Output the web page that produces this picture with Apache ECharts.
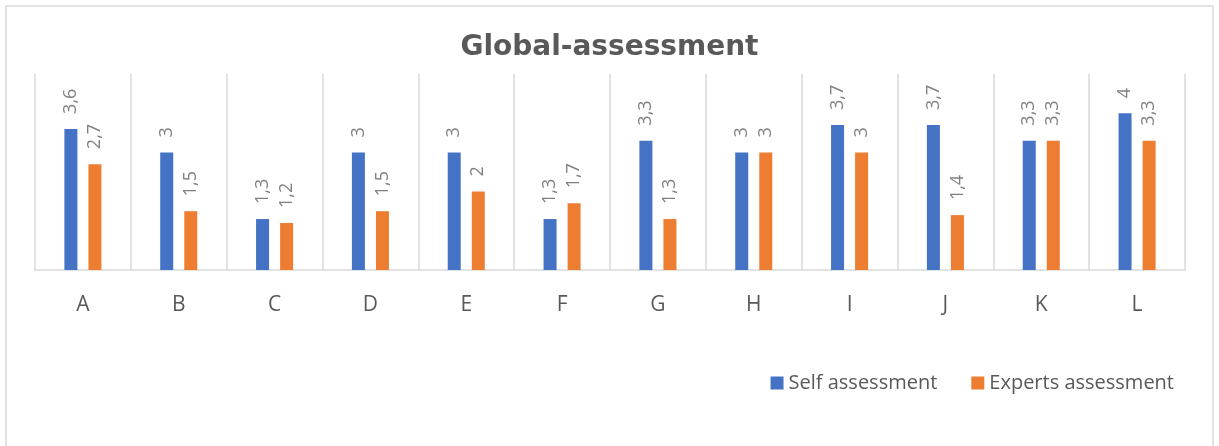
<!DOCTYPE html>
<html>
<head>
<meta charset="utf-8">
<script src="https://cdn.jsdelivr.net/npm/echarts@6/dist/echarts.min.js"></script>
<style>
html,body{margin:0;padding:0;background:#fff;}
#chart{width:1219px;height:446px;}
</style>
</head>
<body>
<div id="chart"></div>
<script>
const titleText = 'Global-assessment';
const categories = ['A','B','C','D','E','F','G','H','I','J','K','L'];
const seriesNames = ['Self assessment','Experts assessment'];
const selfValues = [3.6, 3, 1.3, 3, 3, 1.3, 3.3, 3, 3.7, 3.7, 3.3, 4];
const expertValues = [2.7, 1.5, 1.2, 1.5, 2, 1.7, 1.3, 3, 3, 1.4, 3.3, 3.3];
const colors = ['#4472C4', '#ED7D31'];

const chart = echarts.init(document.getElementById('chart'), null, {renderer: 'canvas'});
const fontFamily = '"Open Sans", "Liberation Sans", sans-serif';
const labelCfg = {
  show: true,
  position: 'top',
  rotate: 90,
  align: 'left',
  verticalAlign: 'middle',
  distance: 15,
  color: '#808080',
  fontSize: 18,
  fontFamily: fontFamily,
  formatter: p => String(p.value).replace('.', ',')
};
chart.setOption({
  animation: false,
  color: colors,
  title: {
    text: titleText,
    left: 'center',
    top: 29,
    textStyle: {
      fontFamily: '"DejaVu Sans", sans-serif',
      fontWeight: 'bold',
      fontSize: 28,
      color: '#595959'
    }
  },
  graphic: [{
    type: 'rect',
    shape: {x: 6, y: 6, width: 1207, height: 470},
    style: {fill: 'none', stroke: '#d9d9d9', lineWidth: 1.5},
    silent: true,
    z: -1
  }],
  legend: {
    data: seriesNames,
    right: 40,
    top: 368,
    itemWidth: 13,
    itemHeight: 13,
    itemGap: 34,
    icon: 'rect',
    textStyle: {fontSize: 20, color: '#595959', fontFamily: fontFamily}
  },
  grid: {left: 35, right: 34, top: 74, bottom: 176, containLabel: false},
  xAxis: {
    type: 'category',
    data: categories,
    axisLine: {lineStyle: {color: '#d9d9d9', width: 1.5}},
    axisTick: {show: false},
    splitLine: {show: true, lineStyle: {color: '#d9d9d9', width: 1.5}},
    axisLabel: {color: '#595959', fontSize: 21, margin: 25, fontFamily: fontFamily}
  },
  yAxis: {
    type: 'value',
    min: 0,
    max: 5,
    interval: 1,
    show: false,
    splitLine: {show: false}
  },
  series: [
    {name: seriesNames[0], type: 'bar', data: selfValues, barWidth: 13, barGap: '85%', label: labelCfg},
    {name: seriesNames[1], type: 'bar', data: expertValues, barWidth: 13, barGap: '85%', label: labelCfg}
  ]
});
</script>
</body>
</html>
